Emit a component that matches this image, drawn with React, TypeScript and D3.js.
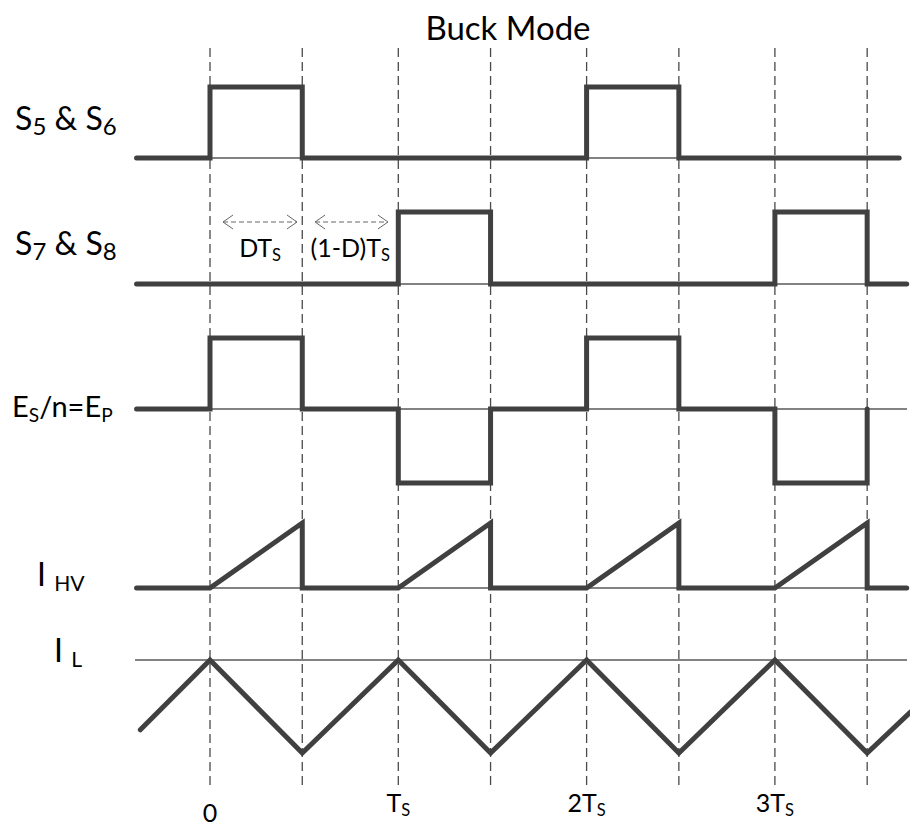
import React from "react";
import * as d3 from "d3";

// Switching instants (in units of the switching period Ts) where the dashed guides sit
const GUIDE_TIMES = [0, 0.49, 1, 1.49, 2, 2.49, 3, 3.49];

// Time-axis labels at multiples of Ts: [main text, subscript]
const PERIOD_TICKS = [0, 1, 2, 3];
const PERIOD_TICK_LABELS: [string, string][] = [["0", ""], ["T", "S"], ["2T", "S"], ["3T", "S"]];

// Waveforms as [t / Ts, level] vertices
const S56_GATE: [number, number][] = [
  [-0.39, 0], [0, 0], [0, 1], [0.49, 1], [0.49, 0], [2, 0], [2, 1], [2.49, 1], [2.49, 0], [3.66, 0],
];
const S78_GATE: [number, number][] = [
  [-0.39, 0], [1, 0], [1, 1], [1.49, 1], [1.49, 0], [3, 0], [3, 1], [3.49, 1], [3.49, 0], [3.7, 0],
];
const E_PRIMARY: [number, number][] = [
  [-0.39, 0], [0, 0], [0, 1], [0.49, 1], [0.49, 0], [1, 0], [1, -1], [1.49, -1], [1.49, 0],
  [2, 0], [2, 1], [2.49, 1], [2.49, 0], [3, 0], [3, -1], [3.49, -1], [3.49, 0],
];
const I_HV: [number, number][] = [
  [-0.39, 0], [0, 0], [0.49, 1], [0.49, 0], [1, 0], [1.49, 1], [1.49, 0], [2, 0], [2.49, 1],
  [2.49, 0], [3, 0], [3.49, 1], [3.49, 0], [3.7, 0],
];
const I_L: [number, number][] = [
  [-0.37, 0.25], [0, 1], [0.49, 0], [1, 1], [1.49, 0], [2, 1], [2.49, 0], [3, 1], [3.49, 0], [3.72, 0.44],
];

// Row names: [main, subscript, main, subscript, ...]
const ROW_LABELS: string[][] = [
  ["S", "5", " & S", "6"],
  ["S", "7", " & S", "8"],
  ["E", "S", "/n=E", "P"],
  ["I ", "HV"],
  ["I ", "L"],
];

const FONT = "Lato, 'Open Sans', sans-serif";
const INK = "#404040";
const THIN = "#585858";

function SubText({ parts, x, y, size, subScale = 0.66, subDrop = 5, anchor = "start" }: {
  parts: string[]; x: number; y: number; size: number; subScale?: number; subDrop?: number; anchor?: string;
}) {
  const spans: React.ReactNode[] = [];
  parts.forEach((p, i) => {
    if (!p) return;
    const isSub = i % 2 === 1;
    const prevSub = i > 0 && (i - 1) % 2 === 1 && parts[i - 1];
    spans.push(
      <tspan key={i} fontSize={isSub ? size * subScale : size} dy={isSub ? subDrop : prevSub ? -subDrop : 0}>
        {p.replace(/ /g, "\u00a0")}
      </tspan>
    );
  });
  return (
    <text x={x} y={y} fontFamily={FONT} fontSize={size} fill="#000" textAnchor={anchor as any}>
      {spans}
    </text>
  );
}

export default function App() {
  const width = 910;
  const height = 828;
  const x = d3.scaleLinear().domain([0, 1]).range([210, 398.3]);
  const left = x(-0.39);
  const right = 907;

  const rows = [
    { data: S56_GATE, y: d3.scaleLinear().domain([0, 1]).range([158, 87]), ref: 0, refX: [left, 900] },
    { data: S78_GATE, y: d3.scaleLinear().domain([0, 1]).range([284, 212]), ref: 0, refX: [left, right] },
    { data: E_PRIMARY, y: d3.scaleLinear().domain([-1, 0, 1]).range([483, 409, 338]), ref: 0, refX: [left, right] },
    { data: I_HV, y: d3.scaleLinear().domain([0, 1]).range([588, 523]), ref: 0, refX: [left, right] },
    { data: I_L, y: d3.scaleLinear().domain([0, 1]).range([753, 660]), ref: 1, refX: [135, right] },
  ];

  const labelPos = [
    { x: 15, y: 130, size: 32 },
    { x: 15, y: 255, size: 32 },
    { x: 12, y: 417, size: 29 },
    { x: 37, y: 586, size: 32 },
    { x: 54, y: 662, size: 32 },
  ];

  const arrows = [
    { t0: 0.069, t1: 0.462, label: ["DT", "S"], lx: 0.266 },
    { t0: 0.558, t1: 0.945, label: ["(1-D)T", "S"], lx: 0.745 },
  ];

  return (
    <svg width={width} height={height} style={{ position: "absolute", left: 0, top: 0, background: "#fff" }}>
      <rect width={width} height={height} fill="#fff" />
      <text x={508} y={40} textAnchor="middle" fontFamily={FONT} fontSize={33} fill="#000">
        Buck Mode
      </text>

      {/* dashed switching-instant guides */}
      {GUIDE_TIMES.map((t) => (
        <line key={t} x1={x(t)} x2={x(t)} y1={48} y2={790} stroke="#4a4a4a" strokeWidth={1.3} strokeDasharray="9,5" />
      ))}

      {/* thin reference levels */}
      {rows.map((r, i) => (
        <line key={"ref" + i} x1={r.refX[0]} x2={r.refX[1]} y1={r.y(r.ref)} y2={r.y(r.ref)} stroke={THIN} strokeWidth={1.3} />
      ))}

      {/* waveforms */}
      {rows.map((r, i) => {
        const line = d3.line<[number, number]>().x((d) => x(d[0])).y((d) => r.y(d[1]));
        return (
          <path key={"w" + i} d={line(r.data) || ""} fill="none" stroke={INK} strokeWidth={5}
            strokeLinecap="round" strokeLinejoin="miter" />
        );
      })}

      {/* row names */}
      {ROW_LABELS.map((parts, i) => (
        <SubText key={"l" + i} parts={parts} x={labelPos[i].x} y={labelPos[i].y} size={labelPos[i].size} subScale={i < 2 ? 0.75 : 0.66} />
      ))}

      {/* interval annotations */}
      {arrows.map((a, i) => {
        const ay = 222;
        const x0 = x(a.t0);
        const x1 = x(a.t1);
        return (
          <g key={"a" + i}>
            <line x1={x0} x2={x1} y1={ay} y2={ay} stroke="#666" strokeWidth={1} strokeDasharray="5,3" />
            <path d={`M${x0 + 10},${ay - 7}L${x0},${ay}L${x0 + 10},${ay + 7}`} fill="none" stroke="#666" strokeWidth={1} />
            <path d={`M${x1 - 10},${ay - 7}L${x1},${ay}L${x1 - 10},${ay + 7}`} fill="none" stroke="#666" strokeWidth={1} />
            <SubText parts={a.label} x={x(a.lx)} y={257} size={25} anchor="middle" subDrop={4} />
          </g>
        );
      })}

      {/* time axis labels */}
      {PERIOD_TICKS.map((t, i) => (
        <SubText key={"t" + i} parts={PERIOD_TICK_LABELS[i]} x={x(t)} y={t === 0 ? 822 : 812} size={25} anchor="middle" subDrop={4} />
      ))}
    </svg>
  );
}
